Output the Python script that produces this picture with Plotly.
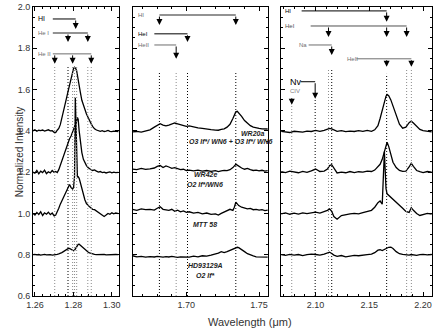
import plotly.graph_objects as go

# ---- panel 1 : 1.26 - 1.30 um ----
p1_wl = [1.2590, 1.2600, 1.2610, 1.2620, 1.2630, 1.2640, 1.2650, 1.2660, 1.2670, 1.2680, 1.2690, 1.2700,
         1.2708, 1.2716, 1.2724, 1.2732, 1.2740, 1.2748, 1.2756, 1.2764, 1.2772, 1.2780, 1.2788, 1.2796,
         1.2801, 1.2806, 1.2810, 1.2813, 1.2817, 1.2821, 1.2825, 1.2830, 1.2836,
         1.2844, 1.2852, 1.2860, 1.2868, 1.2876, 1.2884, 1.2892,
         1.2900, 1.2910, 1.2920, 1.2930, 1.2940, 1.2950, 1.2960, 1.2970, 1.2980, 1.2990, 1.3000, 1.3010, 1.3020,
         1.3035]
p1_wr20a = [1.400, 1.405, 1.398, 1.403, 1.401, 1.404, 1.399, 1.402, 1.405, 1.400, 1.401, 1.393,
            1.392, 1.403, 1.412, 1.430, 1.460, 1.485, 1.522, 1.557, 1.590, 1.625, 1.660, 1.690,
            1.703, 1.708, 1.705, 1.700, 1.690, 1.672, 1.650, 1.620, 1.588,
            1.548, 1.522, 1.500, 1.482, 1.466, 1.448, 1.435,
            1.422, 1.410, 1.404, 1.401, 1.398, 1.401, 1.397, 1.399, 1.402, 1.398, 1.396, 1.399, 1.397,
            1.396]
p1_wr42e = [1.200, 1.195, 1.208, 1.192, 1.205, 1.198, 1.210, 1.193, 1.202, 1.196, 1.208, 1.199,
            1.203, 1.198, 1.212, 1.235, 1.258, 1.280, 1.300, 1.322, 1.345, 1.362, 1.375, 1.395,
            1.410, 1.420, 1.425, 1.435, 1.448, 1.465, 1.455, 1.400, 1.345,
            1.295, 1.262, 1.245, 1.232, 1.222, 1.215, 1.212,
            1.208, 1.211, 1.205, 1.200, 1.203, 1.198, 1.200, 1.196, 1.199, 1.201, 1.197, 1.200, 1.198,
            1.199]
p1_mtt58 = [1.000, 0.992, 1.005, 0.995, 1.008, 0.990, 1.003, 0.996, 1.006, 0.994, 1.002, 0.988,
            0.992, 1.005, 1.025, 1.045, 1.062, 1.078, 1.092, 1.108, 1.128, 1.140, 1.125, 1.118,
            1.125, 1.180, 1.560, 1.450, 1.230, 1.175, 1.178, 1.170, 1.150,
            1.120, 1.090, 1.065, 1.048, 1.038, 1.032, 1.026,
            1.020, 1.018, 1.012, 1.006, 1.000, 0.990, 0.985, 0.992, 1.000, 0.996, 1.003, 0.998, 1.002,
            0.999]
p1_hd93129a = [0.800, 0.802, 0.799, 0.801, 0.798, 0.800, 0.802, 0.799, 0.801, 0.800, 0.798, 0.801,
               0.800, 0.802, 0.804, 0.806, 0.810, 0.815, 0.820, 0.825, 0.829, 0.830, 0.826, 0.820,
               0.819, 0.822, 0.828, 0.834, 0.840, 0.846, 0.850, 0.851, 0.846,
               0.838, 0.830, 0.823, 0.818, 0.813, 0.809, 0.806,
               0.804, 0.802, 0.800, 0.801, 0.799, 0.800, 0.802, 0.799, 0.800, 0.801, 0.799, 0.800, 0.801,
               0.800]

# ---- panel 2 : 1.66 - 1.76 um ----
p2_wl = [1.663, 1.666, 1.669, 1.672, 1.675, 1.678,
         1.680, 1.682, 1.684, 1.686, 1.688, 1.690, 1.692, 1.694, 1.696, 1.698, 1.700, 1.702,
         1.705, 1.708, 1.711, 1.714, 1.717, 1.720,
         1.722, 1.724, 1.726, 1.728, 1.730, 1.732,
         1.733, 1.734, 1.735, 1.736,
         1.738, 1.740, 1.742, 1.744, 1.746, 1.748, 1.750, 1.752, 1.754, 1.756]
p2_wr20a = [1.395, 1.397, 1.394, 1.398, 1.405, 1.418,
            1.428, 1.435, 1.428, 1.424, 1.428, 1.433, 1.438, 1.434, 1.430, 1.426, 1.422, 1.424,
            1.418, 1.414, 1.412, 1.408, 1.406, 1.404,
            1.403, 1.407, 1.410, 1.418, 1.432, 1.460,
            1.478, 1.492, 1.495, 1.488,
            1.470, 1.450, 1.435, 1.425, 1.418, 1.414, 1.412, 1.410, 1.411, 1.409]
p2_wr42e = [1.215, 1.212, 1.218, 1.213, 1.216, 1.220,
            1.228, 1.232, 1.222, 1.230, 1.225, 1.218, 1.222, 1.218, 1.212, 1.214, 1.208, 1.210,
            1.206, 1.210, 1.205, 1.208, 1.204, 1.207,
            1.203, 1.206, 1.209, 1.207, 1.212, 1.222,
            1.232, 1.238, 1.234, 1.228,
            1.220, 1.214, 1.218, 1.212, 1.208, 1.210, 1.206, 1.209, 1.205, 1.207]
p2_mtt58 = [1.020, 1.015, 1.022, 1.018, 1.020, 1.016,
            1.025, 1.032, 1.020, 1.018, 1.015, 1.020, 1.010, 1.016, 1.008, 1.012, 1.005, 1.008,
            1.002, 1.005, 0.998, 1.002, 0.995, 0.998,
            0.992, 1.000, 1.008, 1.012, 1.020, 1.015,
            1.030, 1.055, 1.045, 1.038,
            1.030, 1.026, 1.022, 1.024, 1.018, 1.020, 1.016, 1.018, 1.014, 1.016]
p2_hd93129a = [0.795, 0.790, 0.792, 0.788, 0.791, 0.789,
               0.792, 0.790, 0.788, 0.791, 0.789, 0.792, 0.790, 0.787, 0.790, 0.789, 0.790, 0.788,
               0.793, 0.790, 0.795, 0.793, 0.798, 0.803,
               0.808, 0.815, 0.810, 0.815, 0.822, 0.828,
               0.830, 0.835, 0.836, 0.834,
               0.826, 0.815, 0.805, 0.798, 0.794, 0.790, 0.789, 0.788, 0.790, 0.788]

# ---- panel 3 : 2.07 - 2.21 um ----
p3_wl = [2.068, 2.072, 2.076, 2.080, 2.084, 2.088, 2.092, 2.096, 2.100, 2.104, 2.108,
         2.111, 2.113, 2.115, 2.117,
         2.120, 2.124, 2.128, 2.132, 2.136, 2.140, 2.144, 2.148, 2.152,
         2.155, 2.158, 2.160, 2.162, 2.164, 2.1655, 2.1665, 2.168, 2.170, 2.172,
         2.175, 2.178, 2.181, 2.184, 2.187, 2.189, 2.191, 2.194, 2.197, 2.200, 2.204, 2.208]
p3_wr20a = [1.398, 1.395, 1.392, 1.398, 1.396, 1.394, 1.399, 1.397, 1.402, 1.398, 1.402,
            1.408, 1.412, 1.410, 1.404,
            1.398, 1.401, 1.396, 1.399, 1.397, 1.401, 1.398, 1.402, 1.398,
            1.405, 1.425, 1.460, 1.505, 1.545, 1.568, 1.576, 1.570, 1.550, 1.522,
            1.478, 1.432, 1.413, 1.418, 1.440, 1.447, 1.438, 1.420, 1.407, 1.401, 1.397, 1.395]
p3_wr42e = [1.203, 1.198, 1.205, 1.200, 1.197, 1.204, 1.199, 1.206, 1.215, 1.203, 1.205,
            1.215, 1.232, 1.236, 1.218,
            1.196, 1.200, 1.197, 1.203, 1.198, 1.202, 1.200, 1.205, 1.203,
            1.210, 1.225, 1.238, 1.262, 1.300, 1.330, 1.345, 1.325, 1.280, 1.248,
            1.222, 1.208, 1.204, 1.205, 1.225, 1.243, 1.228, 1.208, 1.202, 1.198, 1.203, 1.200]
p3_mtt58 = [0.998, 1.003, 0.996, 1.001, 0.997, 1.003, 0.999, 1.004, 1.006, 1.002, 1.008,
            1.015, 1.022, 1.010, 0.985,
            0.972, 0.990, 0.995, 0.998, 1.000, 0.998, 1.004, 1.008, 1.015,
            1.030, 1.052, 1.060, 1.045, 1.300, 1.120, 1.095, 1.088, 1.082, 1.072,
            1.055, 1.040, 1.025, 1.010, 1.005, 1.028, 1.015, 1.000, 0.990, 0.995, 1.000, 0.997]
p3_hd93129a = [0.800, 0.797, 0.802, 0.798, 0.801, 0.796, 0.800, 0.803, 0.801, 0.798, 0.803,
               0.808, 0.812, 0.806, 0.798,
               0.792, 0.796, 0.790, 0.794, 0.797, 0.795, 0.799, 0.800, 0.803,
               0.810, 0.822, 0.824, 0.820, 0.826, 0.830, 0.832, 0.836, 0.837, 0.830,
               0.815, 0.805, 0.802, 0.800, 0.798, 0.801, 0.799, 0.797, 0.800, 0.802, 0.799, 0.801]

# line identifications (wavelengths, um)
p1_dotted_black = [1.2772]
p1_dotted_gray = [1.2703, 1.2796, 1.2806, 1.2817, 1.2875, 1.2893]
p2_dotted_black = [1.6815, 1.7008, 1.7340]
p2_dotted_gray = [1.6930]

star_labels = [["<b><i>WR20a</i></b>", "<b><i>O3 If*/ WN6 + O3 If*/ WN6</i></b>"],
               ["<b><i>WR42e</i></b>", "<b><i>O2 If*/WN6</i></b>"],
               ["<b><i>MTT 58</i></b>"],
               ["<b><i>HD93129A</i></b>", "<b><i>O2 If*</i></b>"]]

FONT = "Liberation Sans, Arial, sans-serif"
GRAY = "#6e6e6e"
fig = go.Figure()

panels = [("x", "y", p1_wl, [p1_wr20a, p1_wr42e, p1_mtt58, p1_hd93129a]),
          ("x2", "y2", p2_wl, [p2_wr20a, p2_wr42e, p2_mtt58, p2_hd93129a]),
          ("x3", "y3", p3_wl, [p3_wr20a, p3_wr42e, p3_mtt58, p3_hd93129a])]
for xa, ya, wl, spectra in panels:
    for s in spectra:
        fig.add_trace(go.Scatter(x=wl, y=s, mode="lines", xaxis=xa, yaxis=ya,
                                 line=dict(color="black", width=1.3), showlegend=False,
                                 hoverinfo="skip"))


def dotted(xa, ya, waves, top, color):
    for w in waves:
        fig.add_shape(type="line", xref=xa, yref=ya, x0=w, x1=w, y0=0.6, y1=top,
                      line=dict(color=color, width=1, dash="1px,2px"))


dotted("x", "y", p1_dotted_black, 1.71, "black")
dotted("x", "y", p1_dotted_gray, 1.71, "#8a8a8a")
dotted("x2", "y2", p2_dotted_black, 1.69, "black")
dotted("x2", "y2", p2_dotted_gray, 1.69, "#8a8a8a")
dotted("x3", "y3", [2.0996], 1.55, "black")
dotted("x3", "y3", [2.1150], 1.695, "black")
dotted("x3", "y3", [2.1661], 1.676, "black")
dotted("x3", "y3", [2.0778], 1.527, "#8a8a8a")
dotted("x3", "y3", [2.1120, 2.1847, 2.1891], 1.695, "#8a8a8a")


def bracket(xa, ya, label, xl, y, x0, waves, tip, color="black", size=7, lw=1):
    fig.add_annotation(x=xl, y=y, xref=xa, yref=ya, text=label, showarrow=False,
                       xanchor="left", yanchor="middle",
                       font=dict(family=FONT, size=size, color=color))
    if x0 is not None:
        fig.add_shape(type="line", xref=xa, yref=ya, x0=x0, x1=max(waves), y0=y, y1=y,
                      line=dict(color=color, width=lw))
    for w in waves:
        fig.add_annotation(x=w, y=tip, ax=w, ay=y, xref=xa, yref=ya, axref=xa, ayref=ya,
                           text="", showarrow=True, arrowhead=2, arrowsize=1.2,
                           arrowwidth=1, arrowcolor="black")


bracket("x", "y", "HI", 1.2605, 1.942, 1.2693, [1.2812], 1.894)
bracket("x", "y", "He I", 1.2605, 1.874, 1.2693, [1.2772, 1.2875], 1.831, GRAY, 6, 1.5)
bracket("x", "y", "He II", 1.2605, 1.773, 1.2693, [1.2703, 1.2796, 1.2893], 1.725, GRAY, 6)

bracket("x2", "y2", "HI", 1.6655, 1.961, 1.6815, [1.6815, 1.7340], 1.913, GRAY, 6, 1.5)
bracket("x2", "y2", "HeI", 1.6655, 1.870, 1.678, [1.7008], 1.831, "black", 6)
bracket("x2", "y2", "HeII", 1.6655, 1.816, 1.678, [1.6930], 1.749, GRAY, 6)

bracket("x3", "y3", "HI", 2.0700, 1.981, 2.087, [2.1661], 1.928, "black", 6)
bracket("x3", "y3", "HeI", 2.0700, 1.908, 2.0954, [2.1120, 2.1661, 2.1847], 1.855, "#505050", 6)
bracket("x3", "y3", "Na", 2.0824, 1.816, 2.0935, [2.1150], 1.768, GRAY, 6)
bracket("x3", "y3", "HeII", 2.1278, 1.749, 2.138, [2.1661, 2.1891], 1.71, GRAY, 6)
bracket("x3", "y3", "Nv", 2.0740, 1.638, 2.086, [2.0996], 1.556, "black", 9)
bracket("x3", "y3", "CIV", 2.0740, 1.592, None, [], 1.527, "#808080", 6)
fig.add_annotation(x=2.0778, y=1.527, ax=2.0778, ay=1.565, xref="x3", yref="y3", axref="x3",
                   ayref="y3", text="", showarrow=True, arrowhead=2, arrowsize=1.2,
                   arrowwidth=1, arrowcolor="black")

# star names in the middle panel
label_pos = [(1.7452, 1.388, 1.7308, 1.348), (1.713, 1.188, 1.713, 1.140),
             (1.713, 0.945, None, None), (1.713, 0.749, 1.713, 0.700)]
for lab, (xa1, ya1, xa2, ya2) in zip(star_labels, label_pos):
    fig.add_annotation(x=xa1, y=ya1, xref="x2", yref="y2", text=lab[0], showarrow=False,
                       font=dict(family=FONT, size=7, color="#222"))
    if len(lab) > 1:
        fig.add_annotation(x=xa2, y=ya2, xref="x2", yref="y2", text=lab[1], showarrow=False,
                           font=dict(family=FONT, size=7, color="#222"))

fig.add_annotation(x=-0.052, y=0.5, xref="paper", yref="paper", text="Normalized Intensity",
                   textangle=-90, showarrow=False, font=dict(family=FONT, size=10, color="#333"))
fig.add_annotation(x=0.544, y=-0.089, xref="paper", yref="paper", text="Wavelength (\u03bcm)",
                   showarrow=False, yanchor="middle", font=dict(family=FONT, size=11, color="#333"))

axis_common = dict(showline=True, linecolor="black", linewidth=1, mirror="allticks",
                   ticks="inside", ticklen=4, tickcolor="black", showgrid=False, zeroline=False,
                   tickfont=dict(family=FONT, size=9, color="#333"))

fig.update_layout(
    width=436, height=331, margin=dict(l=33, r=2, t=5, b=35),
    plot_bgcolor="white", paper_bgcolor="white", showlegend=False, hovermode=False,
    xaxis=dict(domain=[0, 0.2145], range=[1.259, 1.3035], anchor="y", tickmode="linear",
               tick0=1.26, dtick=0.02, tickformat=".2f",
               minor=dict(ticks="inside", ticklen=2, tick0=1.26, dtick=0.004, tickcolor="black"),
               **axis_common),
    yaxis=dict(domain=[0, 1], range=[0.6, 2.0], anchor="x", tickmode="linear", tick0=0.6,
               dtick=0.2, tickformat=".1f",
               minor=dict(ticks="inside", ticklen=2, tick0=0.6, dtick=0.05, tickcolor="black"),
               **axis_common),
    xaxis2=dict(domain=[0.2494, 0.5885], range=[1.663, 1.756], anchor="y2", tickmode="linear",
                tick0=1.70, dtick=0.05, tickformat=".2f",
                minor=dict(ticks="inside", ticklen=2, tick0=1.70, dtick=0.01, tickcolor="black"),
                **axis_common),
    yaxis2=dict(domain=[0, 1], range=[0.6, 2.0], anchor="x2", tickmode="linear", tick0=0.6,
                dtick=0.2, showticklabels=False,
                minor=dict(ticks="inside", ticklen=2, tick0=0.6, dtick=0.05, tickcolor="black"),
                **axis_common),
    xaxis3=dict(domain=[0.621, 1.0], range=[2.0676, 2.2083], anchor="y3", tickmode="linear",
                tick0=2.10, dtick=0.05, tickformat=".2f",
                minor=dict(ticks="inside", ticklen=2, tick0=2.10, dtick=0.01, tickcolor="black"),
                **axis_common),
    yaxis3=dict(domain=[0, 1], range=[0.6, 2.0], anchor="x3", tickmode="linear", tick0=0.6,
                dtick=0.2, showticklabels=False,
                minor=dict(ticks="inside", ticklen=2, tick0=0.6, dtick=0.05, tickcolor="black"),
                **axis_common),
)

# the page body has a default 8px margin; drop it so the figure sits at the window origin
fig.write_html("out.html", config={"displayModeBar": False, "staticPlot": True},
               post_script="document.body.style.margin='0px';")
